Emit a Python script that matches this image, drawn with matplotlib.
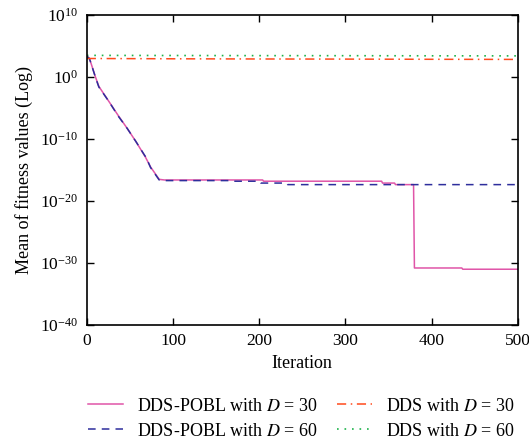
import numpy as np
import matplotlib
matplotlib.use("Agg")
import matplotlib.pyplot as plt

plt.rcParams['font.family'] = ['Liberation Serif', 'DejaVu Serif']
plt.rcParams['mathtext.fontset'] = 'stix'

# DDS-POBL D=30 (iteration, log10 value)
pobl30_iter = [0, 3, 5, 10, 14, 26, 36, 47, 57, 68, 74, 84, 90, 204, 205, 342, 343, 357, 358, 379, 380, 435, 436, 500]
pobl30_log = [3.4, 3.0, 2.2, 0.05, -1.5, -4.0, -6.1, -8.3, -10.4, -12.9, -14.5, -16.5, -16.6, -16.6, -16.8, -16.8, -17.1, -17.1, -17.35, -17.35, -30.8, -30.8, -31.0, -31.0]

# DDS-POBL D=60
pobl60_iter = [0, 3, 5, 10, 14, 26, 36, 47, 57, 67, 69, 74, 84, 90, 166, 167, 201, 202, 232, 233, 500]
pobl60_log = [3.4, 3.0, 2.2, 0.0, -1.6, -4.0, -6.2, -8.3, -10.4, -12.6, -13.0, -14.6, -16.6, -16.7, -16.7, -16.8, -16.8, -17.1, -17.1, -17.35, -17.35]

# DDS D=30 and D=60
dds30_iter = [0, 100, 200, 300, 400, 500]
dds30_log = [3.0, 2.95, 2.92, 2.9, 2.87, 2.85]
dds60_iter = [0, 100, 200, 300, 400, 500]
dds60_log = [3.5, 3.48, 3.46, 3.45, 3.43, 3.42]

xticks = [0, 100, 200, 300, 400, 500]
yticks = [1e-40, 1e-30, 1e-20, 1e-10, 1e0, 1e10]

fig = plt.figure(figsize=(5.29, 4.44), dpi=100)
ax = fig.add_axes([0.164, 0.268, 0.815, 0.698])

ax.plot(pobl30_iter, 10.0 ** np.array(pobl30_log), color='#e055a8', lw=1.1, ls='-',
        label='DDS-POBL with $D$ = 30')
ax.plot(pobl60_iter, 10.0 ** np.array(pobl60_log), color='#2e2e9c', lw=1.1, ls=(0, (5, 4)),
        label='DDS-POBL with $D$ = 60')
ax.plot(dds30_iter, 10.0 ** np.array(dds30_log), color='#ff4a1c', lw=1.1, ls=(0, (6, 3, 1, 3)),
        label='DDS with $D$ = 30')
ax.plot(dds60_iter, 10.0 ** np.array(dds60_log), color='#1db34a', lw=1.2, ls=(0, (1, 3.5)),
        label='DDS with $D$ = 60')

ax.set_yscale('log')
ax.set_xlim(0, 500)
ax.set_ylim(1e-40, 1e10)
ax.set_xticks(xticks)
ax.set_yticks(yticks)
ax.yaxis.set_minor_locator(matplotlib.ticker.NullLocator())
ax.tick_params(direction='in', top=True, right=True, length=5, width=1, labelsize=12.5, pad=6)
for s in ax.spines.values():
    s.set_linewidth(1.2)

ax.set_xlabel('Iteration', fontsize=13, labelpad=4)
ax.set_ylabel('Mean of fitness values (Log)', fontsize=13, labelpad=5)

handles, labels = ax.get_legend_handles_labels()
fig.legend(handles, labels,
           loc='center', bbox_to_anchor=(0.569, 0.057), ncol=2, frameon=False,
           fontsize=13, handlelength=1.95, handletextpad=0.75, columnspacing=1.1,
           labelspacing=0.45, borderpad=0)

fig.savefig('out.png', dpi=100)
